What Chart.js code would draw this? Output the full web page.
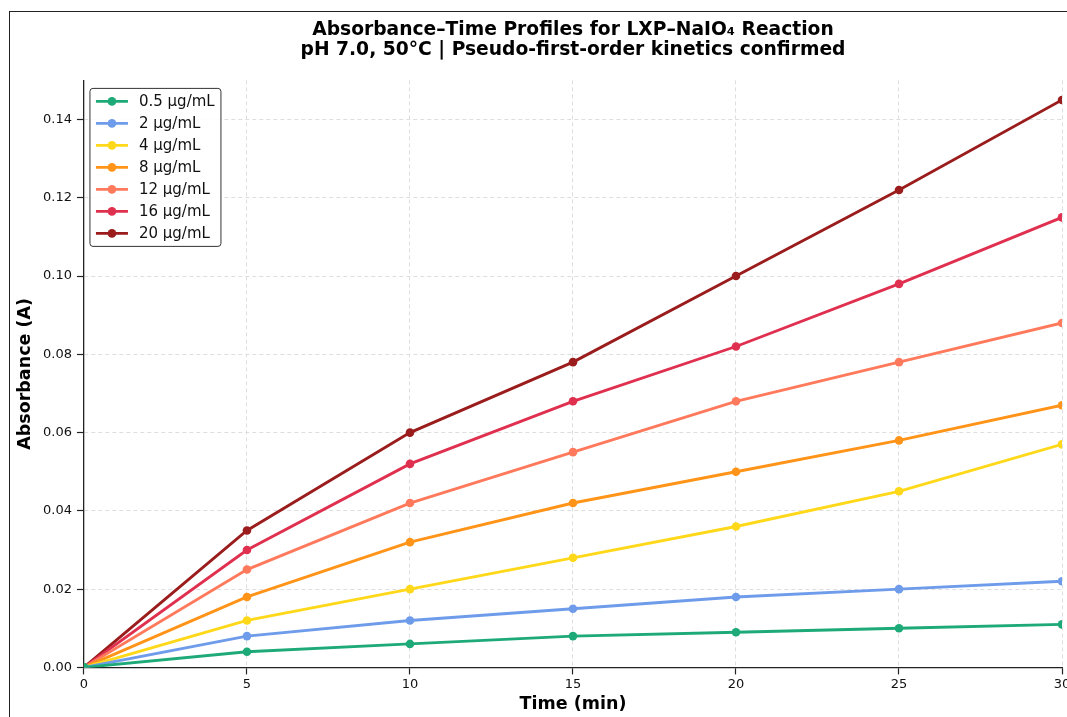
<!DOCTYPE html>
<html>
<head>
<meta charset="utf-8">
<script src="https://cdn.jsdelivr.net/npm/chart.js@4.4.1/dist/chart.umd.min.js"></script>
<style>
  html, body { margin: 0; padding: 0; background: #fff; overflow: hidden; width: 1067px; height: 717px; }
  #wrap { position: absolute; left: 0; top: 0; }
  #frame { position: absolute; left: 9px; top: 11px; width: 1100px; height: 800px;
           border-left: 1.5px solid #222; border-top: 1.5px solid #222; pointer-events: none; }
</style>
</head>
<body>
<div id="wrap"><canvas id="kinChart" width="1080" height="719"></canvas></div>
<div id="frame"></div>
<script>
const timeMin = [0, 5, 10, 15, 20, 25, 30];
const concLabels = ["0.5 μg/mL", "2 μg/mL", "4 μg/mL", "8 μg/mL", "12 μg/mL", "16 μg/mL", "20 μg/mL"];
const abs05 = [0, 0.004, 0.006, 0.008, 0.009, 0.010, 0.011];
const abs2 = [0, 0.008, 0.012, 0.015, 0.018, 0.020, 0.022];
const abs4 = [0, 0.012, 0.020, 0.028, 0.036, 0.045, 0.057];
const abs8 = [0, 0.018, 0.032, 0.042, 0.050, 0.058, 0.067];
const abs12 = [0, 0.025, 0.042, 0.055, 0.068, 0.078, 0.088];
const abs16 = [0, 0.030, 0.052, 0.068, 0.082, 0.098, 0.115];
const abs20 = [0, 0.035, 0.060, 0.078, 0.100, 0.122, 0.145];
const xTicks = [0, 5, 10, 15, 20, 25, 30];
const yTicks = [0, 0.02, 0.04, 0.06, 0.08, 0.10, 0.12, 0.14];

const seriesValues = [abs05, abs2, abs4, abs8, abs12, abs16, abs20];
const lineColors = ["#1eaa78", "#6e9ceb", "#ffd81a", "#ff9419", "#ff7a5c", "#e0304f", "#9a1c1c"];

const FONT = "'DejaVu Sans', sans-serif";

const datasets = seriesValues.map((vals, i) => ({
  label: concLabels[i],
  data: vals.map((y, j) => ({ x: timeMin[j], y })),
  borderColor: lineColors[i],
  backgroundColor: lineColors[i],
  borderWidth: 2.9,
  pointRadius: 4.3,
  pointBorderWidth: 0,
  tension: 0,
}));

// legend box drawn inside the plot, top-left
const insideLegend = {
  id: "insideLegend",
  afterDraw(chart) {
    const { ctx, chartArea } = chart;
    const x0 = chartArea.left + 6, y0 = chartArea.top + 8;
    const w = 131, h = 158, rowH = 22;
    ctx.save();
    ctx.beginPath();
    ctx.roundRect(x0, y0, w, h, 3);
    ctx.fillStyle = "rgba(255,255,255,0.9)";
    ctx.fill();
    ctx.strokeStyle = "#333";
    ctx.lineWidth = 1;
    ctx.stroke();
    ctx.font = "15px " + FONT;
    ctx.textBaseline = "middle";
    chart.data.datasets.forEach((ds, i) => {
      const cy = y0 + 13 + i * rowH;
      ctx.strokeStyle = ds.borderColor;
      ctx.lineWidth = 2.9;
      ctx.beginPath();
      ctx.moveTo(x0 + 6, cy);
      ctx.lineTo(x0 + 38, cy);
      ctx.stroke();
      ctx.fillStyle = ds.borderColor;
      ctx.beginPath();
      ctx.arc(x0 + 22, cy, 4.3, 0, Math.PI * 2);
      ctx.fill();
      ctx.fillStyle = "#111";
      ctx.fillText(ds.label, x0 + 49, cy + 1);
    });
    ctx.restore();
  },
};

const gridOpts = {
  color: "#dedede",
  lineWidth: 1,
  tickColor: "#222",
  tickBorderDash: [],
  tickLength: 7,
  tickWidth: 1.2,
};

new Chart(document.getElementById("kinChart"), {
  type: "line",
  data: { datasets },
  plugins: [insideLegend],
  options: {
    responsive: false,
    animation: false,
    layout: { padding: { left: 15, right: 18, top: 9, bottom: 4 } },
    plugins: {
      legend: { display: false },
      tooltip: { enabled: false },
      title: {
        display: true,
        fullSize: false,
        text: ["Absorbance–Time Profiles for LXP–NaIO₄ Reaction", "pH 7.0, 50°C | Pseudo-first-order kinetics confirmed"],
        color: "#000",
        font: { family: FONT, size: 18.7, weight: "bold", lineHeight: 1.08 },
        padding: { top: 11, bottom: 20 },
      },
    },
    scales: {
      x: {
        type: "linear",
        min: 0,
        max: 30,
        afterBuildTicks: (scale) => { scale.ticks = xTicks.map((v) => ({ value: v })); },
        ticks: { color: "#111", font: { family: FONT, size: 13 }, padding: 2, maxRotation: 0 },
        grid: gridOpts,
        border: { color: "#222", width: 1.3, dash: [4, 3] },
        title: {
          display: true,
          text: "Time (min)",
          color: "#000",
          font: { family: FONT, size: 17.5, weight: "bold" },
          padding: { top: 0, bottom: 0 },
        },
      },
      y: {
        min: 0,
        max: 0.15,
        afterBuildTicks: (scale) => { scale.ticks = yTicks.map((v) => ({ value: v })); },
        ticks: {
          color: "#111",
          font: { family: FONT, size: 13 },
          padding: 5,
          callback: (v) => Number(v).toFixed(2),
        },
        grid: gridOpts,
        border: { color: "#222", width: 1.3, dash: [4, 3] },
        title: {
          display: true,
          text: "Absorbance (A)",
          color: "#000",
          font: { family: FONT, size: 17.5, weight: "bold" },
          padding: { top: 0, bottom: 2 },
        },
      },
    },
  },
});
</script>
</body>
</html>
